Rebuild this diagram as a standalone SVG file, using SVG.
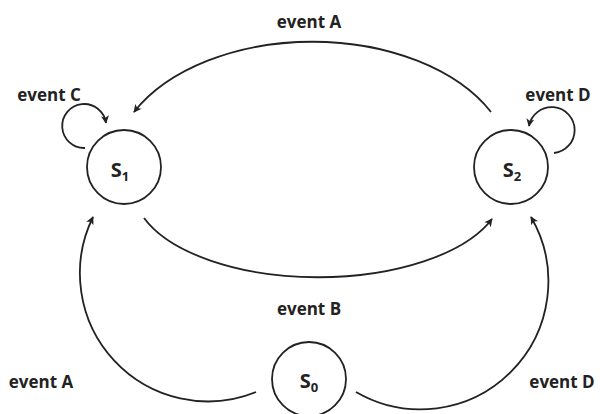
<svg xmlns="http://www.w3.org/2000/svg" width="600" height="414" viewBox="0 0 600 414">
<style>
.st{fill:#fff;stroke:#222;stroke-width:1.8}
.lbl{font-family:"Open Sans","Liberation Sans",sans-serif;font-weight:bold;font-size:17px;fill:#222;text-anchor:middle}
.sl{font-family:"Open Sans","Liberation Sans",sans-serif;font-weight:bold;font-size:20px;fill:#222;text-anchor:middle}
.sub{font-size:13px}
.e{fill:none;stroke:#222;stroke-width:1.8;marker-end:url(#ah)}
</style>
<defs>
<marker id="ah" viewBox="0 0 10 10" refX="9" refY="5" markerWidth="9" markerHeight="8" markerUnits="userSpaceOnUse" orient="auto">
<path d="M0,0 L10,5 L0,10 L2.5,5 z" fill="#222"/>
</marker>
</defs>
<rect width="600" height="414" fill="#fff"/>
<g id="connectors">
<path class="e" d="M491 112 A200 128 0 0 0 134 112"/>
<path class="e" d="M144 218 A185 89 0 0 0 492 219"/>
<path class="e" d="M256 392 A128 128 0 0 1 93 217"/>
<path class="e" d="M356 392 A128 128 0 0 0 531 217"/>
<path class="e" d="M85 148 A22 22 0 1 1 106 123"/>
<path class="e" d="M554 153 A23 23 0 1 0 529 126"/>
</g>
<g id="labels">
<text class="lbl" x="309" y="28">event A</text>
<text class="lbl" x="49" y="101">event C</text>
<text class="lbl" x="558" y="101">event D</text>
<text class="lbl" x="309" y="315">event B</text>
<text class="lbl" x="41" y="388">event A</text>
<text class="lbl" x="562" y="388">event D</text>
</g>
<g id="S1">
<circle class="st" cx="124" cy="167" r="37"/>
<text class="sl" x="120" y="177">S<tspan class="sub" dy="4">1</tspan></text>
</g>
<g id="S2">
<circle class="st" cx="511" cy="167" r="37"/>
<text class="sl" x="512" y="177">S<tspan class="sub" dy="4">2</tspan></text>
</g>
<g id="S0">
<circle class="st" cx="309" cy="379" r="37"/>
<text class="sl" x="309" y="388">S<tspan class="sub" dy="4">0</tspan></text>
</g>
</svg>
